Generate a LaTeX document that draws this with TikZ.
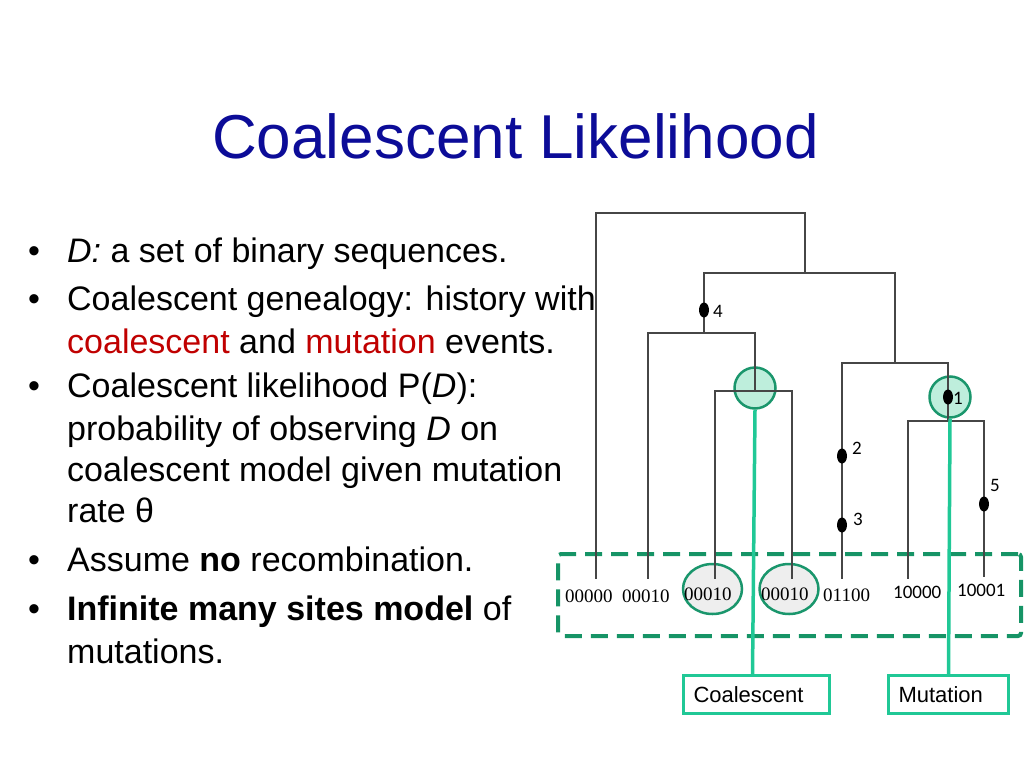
\documentclass[tikz,border=0pt]{standalone}
\usepackage{fontspec}
\setmainfont{Liberation Sans}
\newfontfamily\serifnum{Liberation Serif}
\newfontfamily\calib{Carlito}
\usetikzlibrary{shapes.geometric}
\definecolor{titleblue}{RGB}{12,12,152}
\definecolor{darkred}{RGB}{192,0,0}
\definecolor{treegray}{RGB}{70,70,70}
\definecolor{circdark}{RGB}{26,150,108}
\definecolor{mint}{RGB}{190,238,220}
\definecolor{brightgreen}{RGB}{32,200,150}
\definecolor{dashgreen}{RGB}{22,148,102}
\definecolor{lightgray}{RGB}{238,238,238}
\begin{document}
\begin{tikzpicture}[x=1pt,y=-1pt,
  txt/.style={anchor=base west, inner sep=0pt, font=\fontsize{34}{40}\selectfont},
  bul/.style={anchor=base west, inner sep=0pt, font=\fontsize{34}{40}\selectfont},
  tree/.style={draw=treegray, line width=1.3pt},
  mut/.style={ellipse, fill=black, minimum width=10pt, minimum height=15pt, inner sep=0pt},
  mlab/.style={anchor=base west, inner sep=0pt, font=\calib\fontsize{19}{22}\selectfont},
  leaf/.style={anchor=base west, inner sep=0pt, font=\serifnum\fontsize{19}{22}\selectfont},
  leafc/.style={anchor=base west, inner sep=0pt, font=\calib\fontsize{19}{22}\selectfont},
  event/.style={circle, draw=circdark, fill=mint, line width=2.5pt, minimum size=41pt, inner sep=0pt},
  seqmark/.style={ellipse, draw=circdark, fill=lightgray, line width=2.5pt, minimum width=59pt, minimum height=50pt, inner sep=0pt},
  callout/.style={draw=brightgreen, line width=3pt, minimum height=38pt, anchor=north west, align=left, inner xsep=10pt, font=\fontsize{22}{26}\selectfont},
  link/.style={draw=brightgreen, line width=3.5pt}
]
\useasboundingbox (0,0) rectangle (1024,768);

% title
\node[anchor=base west, inner sep=0pt, text=titleblue, font=\fontsize{62}{70}\selectfont] (title) at (212,158) {Coalescent Likelihood};

% bullets
\node[bul] (b1) at (28,262) {•};
\node[txt] (t1) at (67,262) {\textit{D:} a set of binary sequences.};
\node[bul] (b2) at (28,310) {•};
\node[txt] (t2) at (67,310) {Coalescent genealogy: history with};
\node[txt] (t3) at (67,353) {\textcolor{darkred}{coalescent} and \textcolor{darkred}{mutation} events.};
\node[bul] (b3) at (28,397) {•};
\node[txt] (t4) at (67,397) {Coalescent likelihood P(\textit{D}):};
\node[txt] (t5) at (67,440) {probability of observing \textit{D} on};
\node[txt] (t6) at (67,481) {coalescent model given mutation};
\node[txt] (t7) at (67,522) {rate θ};
\node[bul] (b4) at (28,571) {•};
\node[txt] (t8) at (67,571) {Assume \textbf{no} recombination.};
\node[bul] (b5) at (28,620) {•};
\node[txt] (t9) at (67,620) {\textbf{Infinite many sites model} of};
\node[txt] (t10) at (67,663) {mutations.};

% data box and marked sequences (drawn below tree lines)
\node[draw=dashgreen, line width=4pt, dash pattern=on 17pt off 9pt, rounded corners=3pt,
      minimum width=463pt, minimum height=82pt, inner sep=0pt] (data) at (789.5,595) {};
\node[seqmark] (e1) at (712.5,589) {};
\node[seqmark] (e2) at (789,589) {};

% event circles
\node[event] (cc) at (755,388) {};
\node[event] (mc) at (950,397) {};

% tree coordinates
\coordinate (root) at (700,213);
\coordinate (n2) at (805,273);
\coordinate (n3) at (704,333);
\coordinate (n4) at (895,363);
\coordinate (n5) at (755,391);
\coordinate (n6) at (948,421);
\coordinate (l1) at (596,579);
\coordinate (l2) at (648,579);
\coordinate (l3) at (715,579);
\coordinate (l4) at (792,579);
\coordinate (l5) at (842,579);
\coordinate (l6) at (908,579);
\coordinate (l7) at (984,577);

\draw[tree] (root) -| (l1);
\draw[tree] (root) -| (n2);
\draw[tree] (n2) -| (n3);
\draw[tree] (n2) -| (n4);
\draw[tree] (n3) -| (l2);
\draw[tree] (n3) -| (n5);
\draw[tree] (n5) -| (l3);
\draw[tree] (n5) -| (l4);
\draw[tree] (n4) -| (l5);
\draw[tree] (n4) -| (n6);
\draw[tree] (n6) -| (l6);
\draw[tree] (n6) -| (l7);

% mutations
\node[mut] (m4) at (704,310) {};
\node[mlab] (lab4) at (713,317) {4};
\node[mut] (m1) at (948,397) {};
\node[mlab] (lab1) at (953,404) {1};
\node[mut] (m2) at (842,456) {};
\node[mlab] (lab2) at (852,454) {2};
\node[mut] (m3) at (842,525) {};
\node[mlab] (lab3) at (853,525) {3};
\node[mut] (m5) at (984,504) {};
\node[mlab] (lab5) at (990,491) {5};

% leaf sequences
\node[leaf] (s1) at (565,602) {00000};
\node[leaf] (s2) at (622,602) {00010};
\node[leaf] (s3) at (684,600) {00010};
\node[leaf] (s4) at (761,600) {00010};
\node[leaf] (s5) at (823,601) {01100};
\node[leafc] (s6) at (893,598) {10000};
\node[leafc] (s7) at (957,596) {10001};

% callouts
\node[callout, text width=126pt] (cbox) at (682,674) {Coalescent};
\node[callout, text width=100pt] (mbox) at (887,674) {Mutation};
\draw[link] (cc.south) -- ([xshift=-4pt]cbox.north);
\draw[link] (mc.south) -- (mbox.north);
\end{tikzpicture}
\end{document}
